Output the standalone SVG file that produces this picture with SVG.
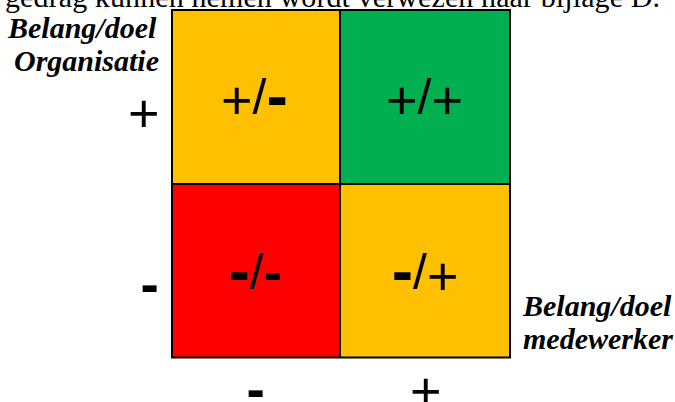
<svg xmlns="http://www.w3.org/2000/svg" width="675" height="402" viewBox="0 0 675 402">
<style>
.sym{font-family:"Liberation Sans",Arial,sans-serif;fill:#000}
.p{font-size:54px}
.s{font-size:50px}
.m{font-size:55px;font-weight:bold}
.mw{font-size:64px;font-weight:bold}
.lbl{font-family:"Liberation Serif","Times New Roman",serif;font-size:30px;font-weight:bold;font-style:italic;fill:#000}
.top{font-family:"Liberation Serif","Times New Roman",serif;font-size:30px;fill:#000}
.grid{fill:none;stroke:#000;stroke-width:2}
</style>
<rect x="0" y="0" width="675" height="402" fill="#fff"/>
<text class="top" x="5" y="7" textLength="655">gedrag kunnen nemen wordt verwezen naar bijlage D.</text>
<g id="cell-org-plus-mw-min">
<rect x="172" y="10" width="168" height="174" fill="#FFC000"/>
<text class="sym" x="221" y="119.4"><tspan class="p">+</tspan><tspan class="s" dy="-5.1">/</tspan><tspan class="mw" dy="3.3">-</tspan></text>
</g>
<g id="cell-org-plus-mw-plus">
<rect x="340" y="10" width="170" height="174" fill="#00B050"/>
<text class="sym" x="386" y="119.4"><tspan class="p">+</tspan><tspan class="s" dy="-5.1">/</tspan><tspan class="p" dy="5.1">+</tspan></text>
</g>
<g id="cell-org-min-mw-min">
<rect x="172" y="184" width="168" height="173.5" fill="#FF0000"/>
<text class="sym" x="228.5" y="293.1"><tspan class="mw">-</tspan><tspan class="s" dy="-4.5">/</tspan><tspan class="m" dy="2.1">-</tspan></text>
</g>
<g id="cell-org-min-mw-plus">
<rect x="340" y="184" width="170" height="173.5" fill="#FFC000"/>
<text class="sym" x="391.8" y="293.1"><tspan class="mw">-</tspan><tspan class="s" dy="-4.5">/</tspan><tspan class="p" dy="6.1">+</tspan></text>
</g>
<g id="grid">
<rect class="grid" x="172" y="10" width="338" height="347.5"/>
<line class="grid" x1="340" y1="10" x2="340" y2="357.5"/>
<line class="grid" x1="172" y1="184" x2="510" y2="184"/>
</g>
<g id="axis-org">
<text class="lbl" x="8" y="38">Belang/doel</text>
<text class="lbl" x="14" y="71">Organisatie</text>
<text class="sym p" x="127.9" y="132.4">+</text>
<text class="sym m" x="140.6" y="302.5">-</text>
</g>
<g id="axis-mw">
<text class="lbl" x="523" y="316">Belang/doel</text>
<text class="lbl" x="523" y="349">medewerker</text>
<text class="sym m" x="246.6" y="407.5">-</text>
<text class="sym p" x="409.9" y="410">+</text>
</g>
</svg>
